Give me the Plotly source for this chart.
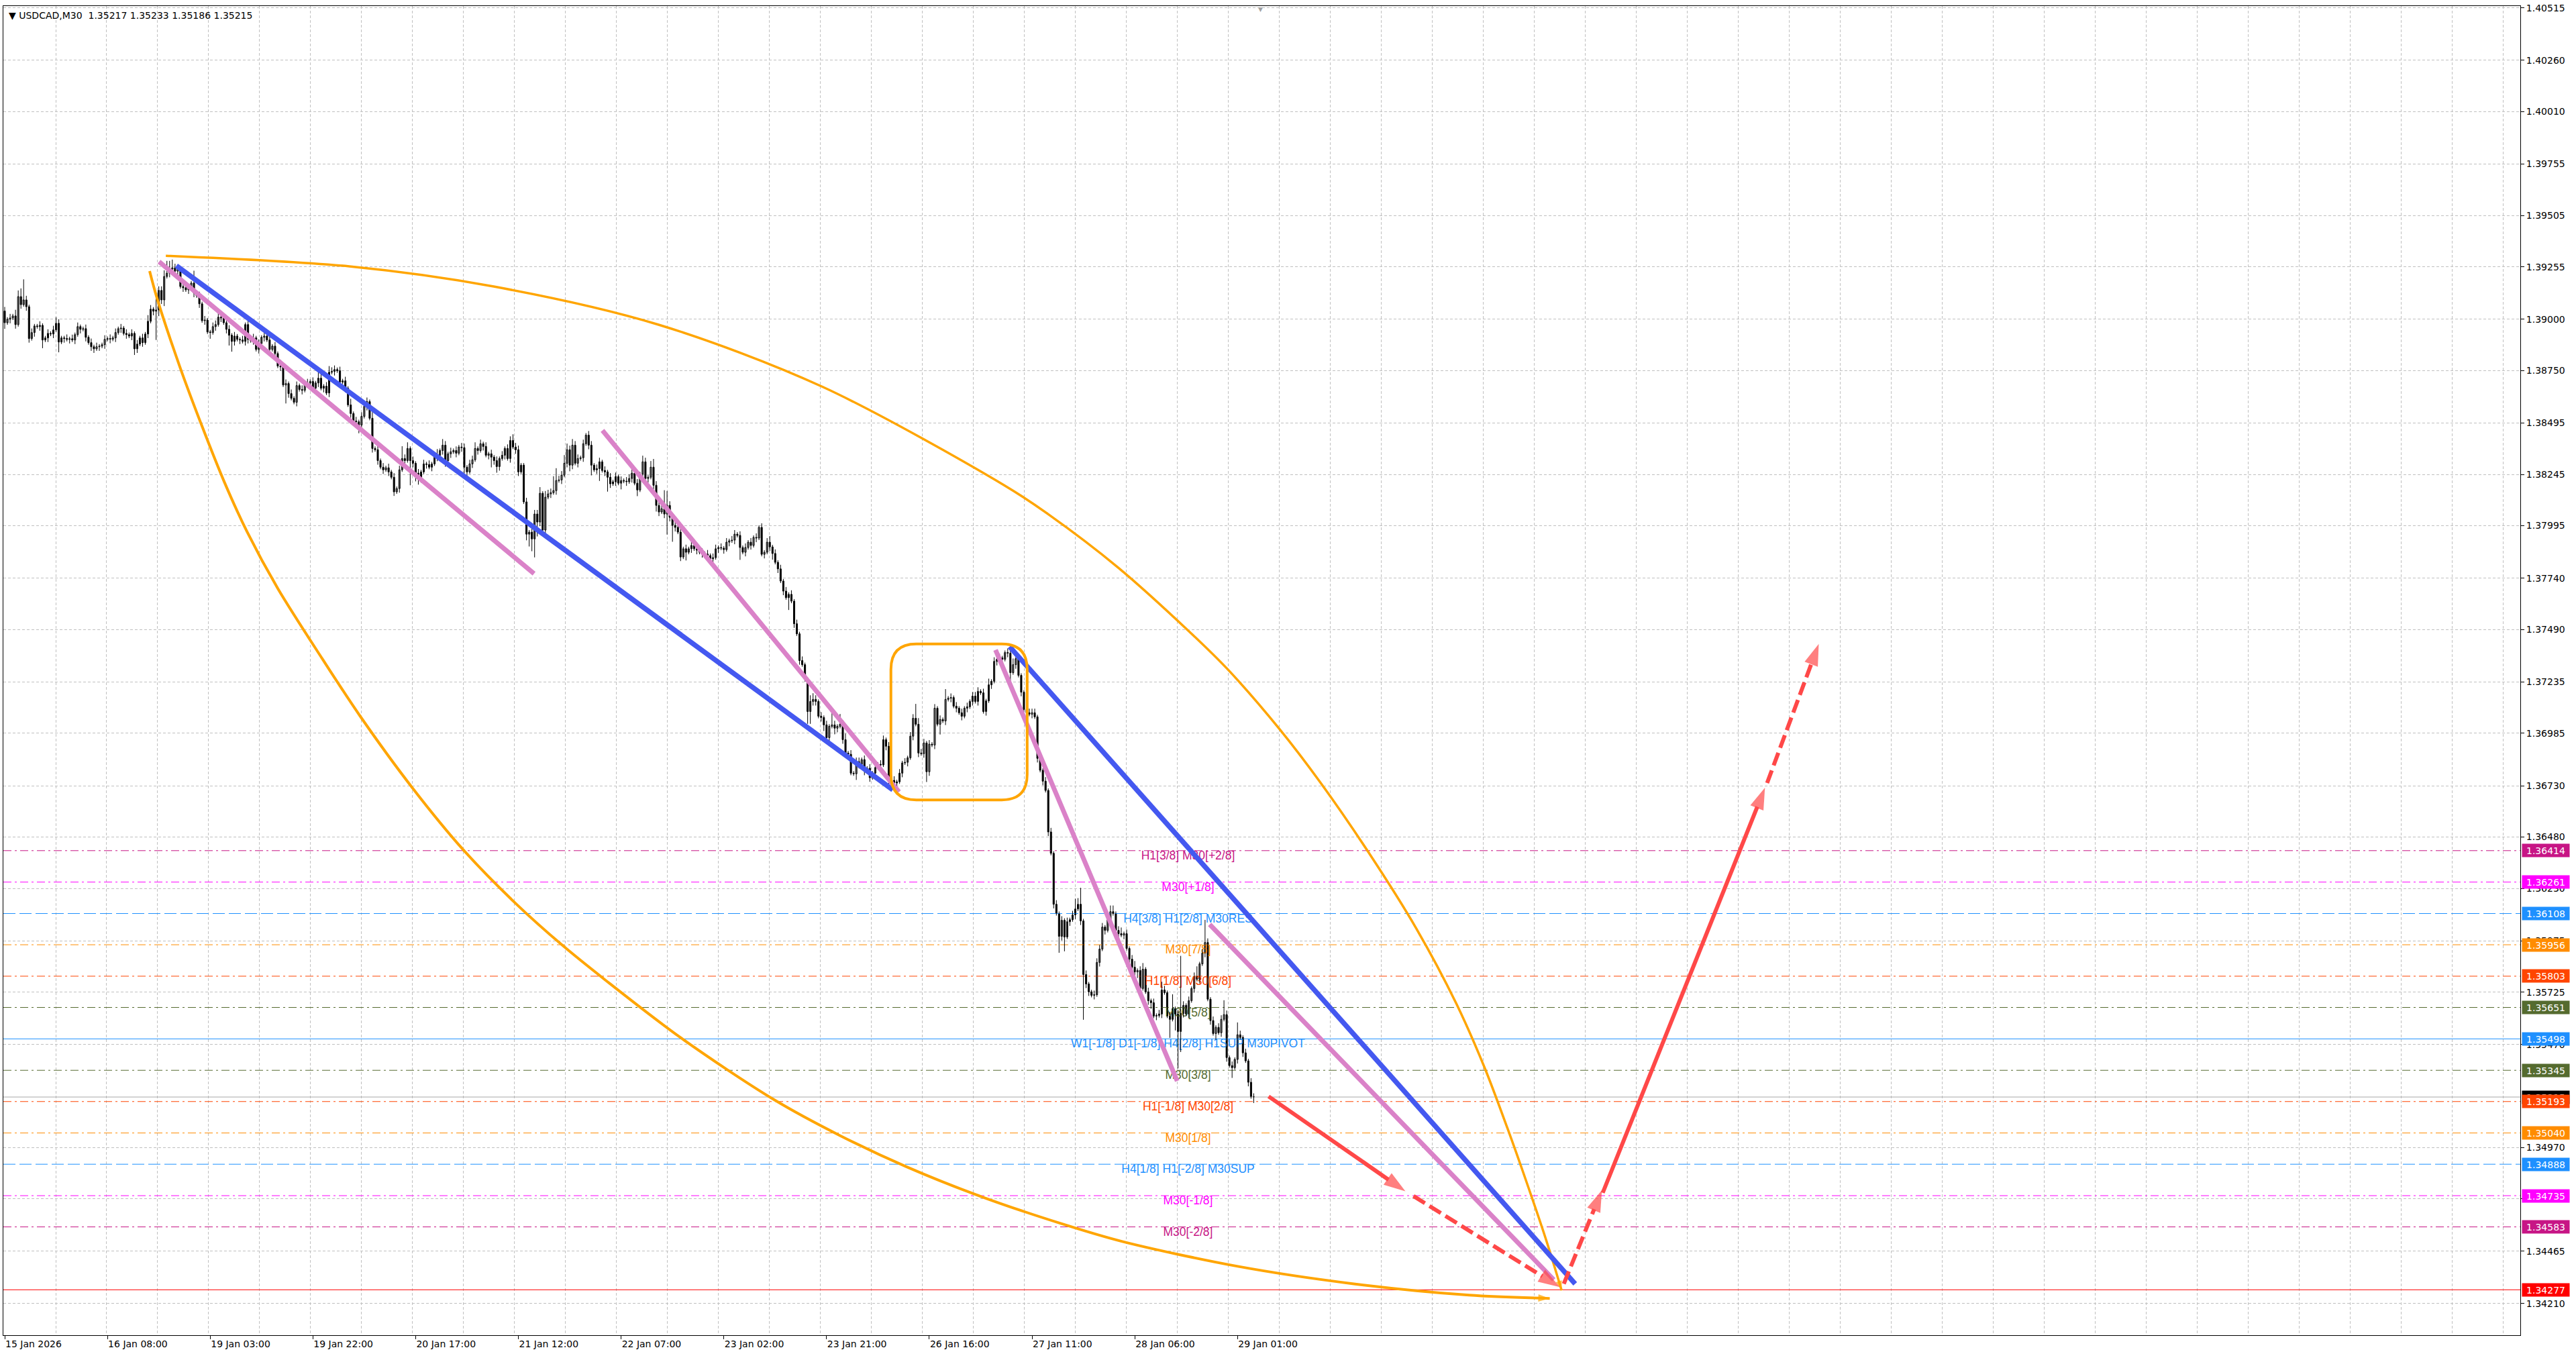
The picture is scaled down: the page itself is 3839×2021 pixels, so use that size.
import plotly.graph_objects as go

# ---------------- data ----------------
TITLE = "\u25BC USDCAD,M30  1.35217 1.35233 1.35186 1.35215"

first_open = 1.39040
closes = [
    1.38983,1.39000,1.39006,1.39016,1.38974,1.39110,1.39071,1.39094,1.39061,1.38906,
    1.38935,1.38967,1.38964,1.38970,1.38899,1.38909,1.38931,1.38928,1.38948,1.38980,
    1.38889,1.38909,1.38906,1.38902,1.38905,1.38899,1.38925,1.38964,1.38951,1.38954,
    1.38912,1.38886,1.38866,1.38856,1.38866,1.38869,1.38876,1.38902,1.38906,1.38903,
    1.38909,1.38935,1.38954,1.38957,1.38931,1.38925,1.38918,1.38931,1.38856,1.38879,
    1.38909,1.38886,1.38928,1.38990,1.39049,1.39039,1.39045,1.39140,1.39094,1.39208,
    1.39224,1.39244,1.39250,1.39234,1.39244,1.39159,1.39153,1.39143,1.39153,1.39176,
    1.39127,1.39114,1.39075,1.38993,1.38996,1.38938,1.38935,1.38964,1.38974,1.39010,
    1.39006,1.38983,1.38951,1.38922,1.38892,1.38918,1.38902,1.38899,1.38892,1.38974,
    1.38902,1.38896,1.38909,1.38853,1.38882,1.38912,1.38918,1.38899,1.38853,1.38869,
    1.38833,1.38772,1.38768,1.38680,1.38687,1.38638,1.38615,1.38596,1.38677,1.38658,
    1.38654,1.38687,1.38690,1.38697,1.38664,1.38690,1.38713,1.38664,1.38674,1.38641,
    1.38742,1.38746,1.38755,1.38749,1.38694,1.38700,1.38664,1.38583,1.38541,1.38505,
    1.38501,1.38485,1.38527,1.38576,1.38599,1.38518,1.38371,1.38365,1.38312,1.38280,
    1.38267,1.38277,1.38257,1.38231,1.38160,1.38176,1.38267,1.38322,1.38312,1.38371,
    1.38312,1.38299,1.38251,1.38225,1.38257,1.38296,1.38293,1.38280,1.38296,1.38329,
    1.38338,1.38361,1.38387,1.38312,1.38345,1.38355,1.38361,1.38348,1.38378,1.38375,
    1.38280,1.38257,1.38296,1.38316,1.38371,1.38361,1.38394,1.38381,1.38338,1.38345,
    1.38329,1.38312,1.38283,1.38322,1.38338,1.38371,1.38322,1.38410,1.38378,1.38365,
    1.38257,1.38290,1.38111,1.37954,1.37964,1.37931,1.38052,1.38013,1.38153,1.37974,
    1.38134,1.38150,1.38156,1.38166,1.38215,1.38218,1.38241,1.38299,1.38365,1.38290,
    1.38387,1.38299,1.38322,1.38326,1.38394,1.38436,1.38387,1.38290,1.38267,1.38273,
    1.38306,1.38264,1.38257,1.38231,1.38199,1.38209,1.38234,1.38202,1.38215,1.38212,
    1.38209,1.38225,1.38251,1.38202,1.38169,1.38247,1.38306,1.38225,1.38231,1.38280,
    1.38192,1.38094,1.38062,1.38078,1.38052,1.38094,1.38036,1.37997,1.37987,1.37964,
    1.37843,1.37883,1.37866,1.37883,1.37899,1.37883,1.37876,1.37866,1.37860,1.37857,
    1.37850,1.37834,1.37840,1.37883,1.37889,1.37886,1.37879,1.37915,1.37922,1.37925,
    1.37954,1.37948,1.37889,1.37866,1.37889,1.37915,1.37899,1.37938,1.37935,1.37987,
    1.37856,1.37866,1.37915,1.37892,1.37860,1.37817,1.37785,1.37726,1.37677,1.37645,
    1.37661,1.37628,1.37518,1.37469,1.37339,1.37319,1.37247,1.37091,1.37140,1.37150,
    1.37140,1.37068,1.37062,1.37026,1.36964,1.37019,1.37026,1.37010,1.37019,1.37029,
    1.36954,1.36889,1.36883,1.36791,1.36788,1.36847,1.36834,1.36857,1.36801,1.36815,
    1.36769,1.36791,1.36818,1.36834,1.36831,1.36954,1.36922,1.36759,1.36756,1.36743,
    1.36749,1.36791,1.36841,1.36844,1.36866,1.36971,1.37058,1.37029,1.36889,1.36886,
    1.36938,1.36798,1.36932,1.36928,1.37107,1.37029,1.37052,1.37045,1.37150,1.37156,
    1.37159,1.37117,1.37107,1.37085,1.37068,1.37107,1.37114,1.37140,1.37166,1.37140,
    1.37189,1.37182,1.37091,1.37143,1.37221,1.37238,1.37335,1.37345,1.37352,1.37345,
    1.37378,1.37375,1.37280,1.37319,1.37348,1.37267,1.37185,1.37101,1.37085,1.37078,
    1.37085,1.37065,1.36863,1.36805,1.36752,1.36707,1.36505,1.36401,1.36153,1.36108,
    1.35997,1.36075,1.35994,1.36068,1.36078,1.36101,1.36130,1.36153,1.36072,1.35811,
    1.35765,1.35727,1.35710,1.35713,1.35870,1.35935,1.36042,1.36026,1.36078,1.36117,
    1.36108,1.36026,1.36010,1.36003,1.36010,1.35938,1.35886,1.35847,1.35824,1.35831,
    1.35743,1.35837,1.35727,1.35684,1.35674,1.35609,1.35612,1.35619,1.35736,1.35723,
    1.35609,1.35593,1.35645,1.35619,1.35534,1.35622,1.35661,1.35619,1.35684,1.35743,
    1.35801,1.35788,1.35863,1.35915,1.35967,1.35691,1.35587,1.35524,1.35554,1.35528,
    1.35593,1.35616,1.35407,1.35368,1.35358,1.35398,1.35518,1.35505,1.35430,1.35391,
    1.35287,1.35217,1.35215,
]
# wick lengths in pips (0.0001) above / below the candle body
up_wick = [
    2,1,2,1,3,3,4,10,2,1,2,1,1,2,1,1,2,1,2,3,
    2,1,1,2,1,2,1,2,1,1,2,1,2,1,2,1,1,2,1,2,
    1,2,1,2,1,2,1,2,1,2,1,2,1,3,2,1,6,2,2,3,
    6,4,4,2,2,1,2,1,2,1,6,1,2,1,2,1,1,2,2,3,
    1,2,1,2,1,2,1,1,2,1,2,1,2,1,2,1,2,1,2,1,
    2,1,3,1,2,1,2,1,2,1,2,1,2,1,2,1,3,2,1,2,
    3,2,2,1,2,1,2,1,3,1,2,1,2,1,2,1,3,1,2,1,
    2,1,2,1,2,1,2,6,2,3,1,2,1,2,1,2,1,2,1,2,
    3,1,3,2,1,2,1,2,1,2,2,1,2,2,3,1,2,1,2,1,
    2,1,2,1,2,1,2,2,3,2,2,1,1,2,1,2,2,2,3,1,
    3,2,2,7,6,2,2,4,3,2,3,2,2,1,2,1,2,2,1,2,
    2,1,2,1,2,1,2,1,2,1,2,2,3,1,2,1,3,2,1,3,
    4,2,3,2,9,7,2,1,2,1,2,1,2,1,2,1,2,1,2,1,
    2,1,2,2,1,2,1,2,1,2,2,1,2,1,2,1,2,1,2,1,
    2,1,2,3,1,2,1,2,1,2,1,2,1,2,1,2,1,1,3,3,
    2,1,2,1,2,1,6,2,1,5,2,3,1,2,1,2,2,1,2,1,
    2,1,2,1,2,2,1,2,1,2,1,2,1,2,1,2,2,7,3,2,
    2,1,2,1,2,1,2,1,5,1,2,1,2,1,2,1,2,1,2,2,
    2,1,2,1,3,1,2,1,2,1,1,2,2,3,2,2,1,1,2,2,
    2,2,1,2,1,2,1,2,1,2,1,2,1,2,1,2,5,3,8,1,
    2,1,1,2,2,2,2,1,2,3,3,1,2,3,1,2,1,2,3,1,
    2,3,1,2,1,2,1,2,4,2,1,2,7,1,2,28,2,1,2,1,
    2,5,1,2,11,2,1,2,1,2,2,7,2,1,2,1,6,2,1,2,
    1,2,1.6,
]
dn_wick = [
    3,1,2,1,2,1,2,1,2,2,1,2,1,2,4,1,2,1,2,1,
    5,1,2,1,2,1,2,1,2,1,2,1,2,2,1,2,1,2,1,2,
    1,2,1,2,1,2,1,2,3,2,1,2,1,2,1,2,14,3,2,3,
    1,2,1,2,2,1,2,1,2,1,2,1,2,1,2,1,3,1,2,1,
    2,1,2,5,5,2,1,2,1,2,2,1,2,1,2,1,2,1,2,1,
    2,1,2,1,9,2,1,1,2,1,2,1,2,1,2,1,2,1,2,1,
    2,1,2,1,2,1,2,1,2,1,2,4,2,1,2,1,2,1,2,1,
    2,1,2,1,2,1,2,1,2,1,12,2,4,3,2,1,2,1,2,1,
    2,1,2,3,1,2,1,2,1,2,3,2,1,2,1,2,1,2,1,2,
    5,2,3,2,1,2,1,2,1,2,2,1,1,3,6,6,9,7,2,1,
    2,1,2,1,2,1,2,1,2,3,2,1,2,1,2,1,2,5,1,2,
    6,1,2,7,2,1,2,1,3,1,2,1,2,1,3,1,2,1,2,1,
    2,3,2,1,2,10,2,8,2,1,2,1,4,1,2,1,2,1,2,1,
    2,1,2,1,2,1,2,1,2,1,2,1,6,1,2,1,2,1,2,1,
    1,2,1,2,3,1,2,1,2,1,6,1,2,1,2,1,1,6,6,2,
    2,1,2,3,3,2,1,3,2,1,2,1,2,1,1,3,2,1,2,1,
    2,1,2,1,2,1,2,2,1,3,2,1,2,1,2,1,2,1,2,1,
    2,5,2,1,2,1,5,1,2,1,2,1,2,1,2,1,2,1,2,1,
    2,1,1,2,1,2,1,2,1,2,1,2,5,1,2,1,2,1,2,1,
    2,1,2,1,2,1,2,1,2,1,8,2,7,1,2,1,2,1,2,22,
    2,2,1,2,1,2,1,2,1,2,1,2,3,1,2,1,2,1,2,3,
    2,1,1,2,3,1,2,1,2,1,1,9,1,8,18,10,2,1,2,1,
    2,1,2,1,2,1,2,1,3,1,2,1,2,1,5,1,2,1,2,1,
    2,1,2.9,
]

x_tick_bars = [0, 38, 76, 114, 152, 190, 228, 266, 304, 342, 380, 418, 456]
x_tick_labels = ["15 Jan 2026", "16 Jan 08:00", "19 Jan 03:00", "19 Jan 22:00",
                 "20 Jan 17:00", "21 Jan 12:00", "22 Jan 07:00", "23 Jan 02:00",
                 "23 Jan 21:00", "26 Jan 16:00", "27 Jan 11:00", "28 Jan 06:00",
                 "29 Jan 01:00"]
y_tick_vals = [1.40515, 1.40260, 1.40010, 1.39755, 1.39505, 1.39255, 1.39000,
               1.38750, 1.38495, 1.38245, 1.37995, 1.37740, 1.37490, 1.37235,
               1.36985, 1.36730, 1.36480, 1.36230, 1.35975, 1.35725, 1.35470,
               1.34970, 1.34720, 1.34465, 1.34210]

levels = [1.36414, 1.36261, 1.36108, 1.35956, 1.35803, 1.35651, 1.35498,
          1.35345, 1.35193, 1.35040, 1.34888, 1.34735, 1.34583]
level_names = ["H1[3/8] M30[+2/8]", "M30[+1/8]", "H4[3/8] H1[2/8] M30RES",
               "M30[7/8]", "H1[1/8] M30[6/8]", "M30[5/8]",
               "W1[-1/8] D1[-1/8] H4[2/8] H1SUP M30PIVOT", "M30[3/8]",
               "H1[-1/8] M30[2/8]", "M30[1/8]", "H4[1/8] H1[-2/8] M30SUP",
               "M30[-1/8]", "M30[-2/8]"]
level_colors = ["#C71585", "#FF00FF", "#1E90FF", "#FF8C00", "#FF4500", "#556B2F",
                "#1E90FF", "#556B2F", "#FF4500", "#FF8C00", "#1E90FF", "#FF00FF",
                "#C71585"]
level_styles = ["dashdot", "dashdot", "dash", "dashdot", "dashdot", "dashdot",
                "solid", "dashdot", "dashdot", "dashdot", "dash", "dashdot",
                "dashdot"]
label_bar = 437.7

target_level = 1.34277
bid_price = 1.35215

# drawn objects (bar index, price)
blue_lines = [([63.5, 328.5], [1.39260, 1.36710]),
              ([371.7, 580.9], [1.37407, 1.34306])]
pink_lines = [([57.1, 195.8], [1.39280, 1.37762]),
              ([221.1, 330.8], [1.38459, 1.36700]),
              ([366.5, 433.7], [1.37391, 1.35293]),
              ([445.7, 573.0], [1.36055, 1.34326])]
upper_arc_x = [59.6, 127.5, 180.9, 241.7, 302.5, 369.7, 385.9, 411.9, 438.0, 452.4,
               471.7, 486.8, 504.7, 522.1, 537.0, 547.4, 555.8, 563.0, 570.2, 575.9]
upper_arc_y = [1.39309, 1.39257, 1.39159, 1.38974, 1.38671, 1.38192, 1.38052,
               1.37791, 1.37482, 1.37296, 1.37003, 1.36743, 1.36401, 1.36036,
               1.35668, 1.35358, 1.35065, 1.34798, 1.34518, 1.34274]
lower_arc_x = [53.6, 56.3, 64.8, 73.0, 81.1, 89.6, 101.0, 117.6, 131.5, 150.6, 169.7,
               189.1, 206.5, 222.1, 249.9, 284.6, 309.2, 333.5, 361.3, 390.6, 413.4,
               456.1, 499.0, 541.7, 571.5]
lower_arc_y = [1.39234, 1.39104, 1.38768, 1.38479, 1.38212, 1.37967, 1.37690,
               1.37345, 1.37068, 1.36723, 1.36417, 1.36156, 1.35951, 1.35785,
               1.35505, 1.35202, 1.35026, 1.34876, 1.34730, 1.34600, 1.34512,
               1.34391, 1.34306, 1.34251, 1.34235]
box_x = [327.8, 378.2]
box_y = [1.36661, 1.37420]
red_arrows = [([467.5, 518.1], [1.35218, 1.34756], "solid"),
              ([521.1, 575.2], [1.34733, 1.34290], "dash"),
              ([576.7, 590.8], [1.34306, 1.34762], "dash"),
              ([591.1, 651.1], [1.34749, 1.36720], "solid"),
              ([651.9, 671.0], [1.36743, 1.37420], "dash")]

# ---------------- styles ----------------
FONT = "DejaVu Sans"
LFONT = "Liberation Sans, Arial"
GRID = "#C0C0C0"
BLUE = "#4458F0"
PINK = "#DA82C8"
ORANGE = "#FFA500"
RED = "#FF4848"
DASHES = {"dashdot": "12px,5px,3px,5px", "dash": "18px,6px", "solid": "solid"}
X_RANGE = [-0.5, 930.5]
Y_RANGE = [1.34056, 1.40524]

fig = go.Figure()

# level lines + labels
for lv, col, st in zip(levels, level_colors, level_styles):
    fig.add_trace(go.Scatter(x=X_RANGE, y=[lv, lv], mode="lines",
                             line=dict(color=col, width=1, dash=DASHES[st]),
                             hoverinfo="skip"))
fig.add_trace(go.Scatter(x=X_RANGE, y=[target_level, target_level], mode="lines",
                         line=dict(color="#FF0000", width=1), hoverinfo="skip"))
fig.add_trace(go.Scatter(x=X_RANGE, y=[bid_price, bid_price], mode="lines",
                         line=dict(color="#A8A8A8", width=1), hoverinfo="skip"))
fig.add_trace(go.Scatter(x=[label_bar] * len(levels), y=levels, mode="text",
                         text=level_names, textposition="bottom center",
                         textfont=dict(family=LFONT, size=17.5, color=level_colors),
                         hoverinfo="skip"))

# candles
n = len(closes)
opens = [first_open] + closes[:-1]
highs = [max(o, c) + u * 0.0001 for o, c, u in zip(opens, closes, up_wick)]
lows = [min(o, c) - d * 0.0001 for o, c, d in zip(opens, closes, dn_wick)]
wx, wy = [], []
for i in range(n):
    wx += [i, i, None]
    wy += [lows[i], highs[i], None]
fig.add_trace(go.Scatter(x=wx, y=wy, mode="lines", line=dict(color="black", width=1),
                         hoverinfo="skip"))
for bull in (True, False):
    idx = [i for i in range(n) if (closes[i] >= opens[i]) == bull]
    fig.add_trace(go.Bar(
        x=idx,
        base=[min(opens[i], closes[i]) for i in idx],
        y=[max(abs(closes[i] - opens[i]), 0.000015) for i in idx],
        width=0.5,
        marker=dict(color="white" if bull else "black",
                    line=dict(color="black", width=1)),
        hoverinfo="skip"))

# arcs
def arrow_sizes(k, s):
    return [0] * (k - 1) + [s]

fig.add_trace(go.Scatter(x=lower_arc_x, y=lower_arc_y, mode="lines+markers",
                         line=dict(color=ORANGE, width=4, shape="spline", smoothing=0.9),
                         marker=dict(symbol="arrow", angleref="previous",
                                     size=arrow_sizes(len(lower_arc_x), 18),
                                     color=ORANGE, line=dict(width=0)),
                         hoverinfo="skip"))
fig.add_trace(go.Scatter(x=upper_arc_x, y=upper_arc_y, mode="lines+markers",
                         line=dict(color=ORANGE, width=3.5, shape="spline", smoothing=0.9),
                         marker=dict(symbol="arrow", angleref="previous",
                                     size=arrow_sizes(len(upper_arc_x), 15),
                                     color=ORANGE, line=dict(width=0)),
                         hoverinfo="skip"))

# trend lines
for xs, ys in blue_lines:
    fig.add_trace(go.Scatter(x=xs, y=ys, mode="lines",
                             line=dict(color=BLUE, width=7.5), hoverinfo="skip"))
for xs, ys in pink_lines:
    fig.add_trace(go.Scatter(x=xs, y=ys, mode="lines",
                             line=dict(color=PINK, width=7), hoverinfo="skip"))

# red forecast arrows
for xs, ys, st in red_arrows:
    fig.add_trace(go.Scatter(x=xs, y=ys, mode="lines+markers",
                             line=dict(color=RED, width=6,
                                       dash="solid" if st == "solid" else "20px,8px"),
                             marker=dict(symbol="arrow", angleref="previous",
                                         size=[0, 34], color=RED, line=dict(width=0)),
                             hoverinfo="skip"))

# rounded orange box
rx = 9.4
ry = 0.00124
x0, x1 = box_x
y0, y1 = box_y
path = (f"M {x0+rx},{y1} L {x1-rx},{y1} Q {x1},{y1} {x1},{y1-ry} "
        f"L {x1},{y0+ry} Q {x1},{y0} {x1-rx},{y0} L {x0+rx},{y0} "
        f"Q {x0},{y0} {x0},{y0+ry} L {x0},{y1-ry} Q {x0},{y1} {x0+rx},{y1} Z")
fig.add_shape(type="path", path=path, xref="x", yref="y",
              line=dict(color=ORANGE, width=4))

# price boxes on the right
boxes = [(bid_price, "#000000")] + list(zip(levels, level_colors)) + [(target_level, "#FF0000")]
for val, col in boxes:
    fig.add_annotation(xref="paper", x=1, xanchor="left", xshift=2,
                       yref="y", y=val, yanchor="middle",
                       text=f"{val:.5f}", showarrow=False,
                       font=dict(family=FONT, size=14, color="white"),
                       bgcolor=col, width=68, height=17, borderpad=1)

# title and shift marker
fig.add_annotation(xref="paper", x=0, xanchor="left", xshift=6,
                   yref="paper", y=1, yanchor="top", yshift=-4,
                   text=TITLE, showarrow=False,
                   font=dict(family=FONT, size=14, color="black"))
fig.add_annotation(xref="x", x=464.5, yref="paper", y=1, yanchor="top", yshift=2,
                   text="\u25BC", showarrow=False,
                   font=dict(family=FONT, size=9, color="#A0A0A0"))

grid_bars = [18.86 * k for k in range(1, 50)]

fig.update_layout(
    width=3839, height=2021,
    margin=dict(l=4, r=83, t=4, b=31),
    paper_bgcolor="white", plot_bgcolor="white",
    showlegend=False, barmode="overlay",
    xaxis=dict(range=X_RANGE, tickmode="array", tickvals=x_tick_bars,
               ticktext=x_tick_labels, ticks="outside", ticklen=5,
               tickcolor="black", showgrid=False, zeroline=False,
               showline=True, linecolor="black", linewidth=1, mirror=True,
               ticklabelposition="outside right",
               tickfont=dict(family=FONT, size=14, color="black"),
               minor=dict(tickmode="array", tickvals=grid_bars, showgrid=True,
                          gridcolor=GRID, griddash="4px,3px", gridwidth=1,
                          ticks="")),
    yaxis=dict(range=Y_RANGE, side="right", tickmode="array",
               tickvals=y_tick_vals, ticktext=[f"{v:.5f}" for v in y_tick_vals],
               ticks="outside", ticklen=5, tickcolor="black",
               ticklabeloverflow="allow",
               showgrid=True, gridcolor=GRID, griddash="4px,3px", gridwidth=1,
               zeroline=False, showline=True, linecolor="black", linewidth=1,
               mirror=True, tickfont=dict(family=FONT, size=14, color="black")),
)

fig.write_html("out.html", config={"displayModeBar": False},
               post_script="document.body.style.margin='0px';document.body.style.overflow='hidden';")
